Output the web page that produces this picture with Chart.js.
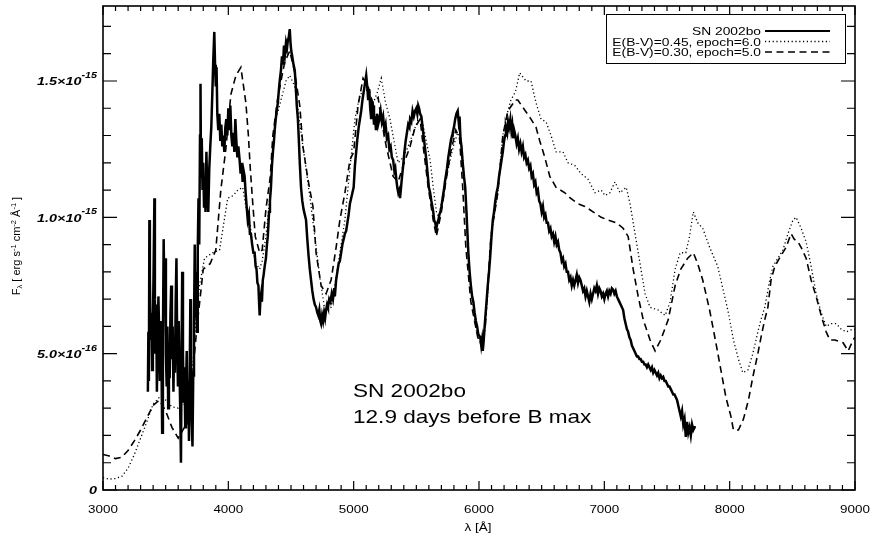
<!DOCTYPE html>
<html>
<head>
<meta charset="utf-8">
<script src="https://cdn.jsdelivr.net/npm/chart.js@4.4.1/dist/chart.umd.min.js"></script>
<style>
  html, body { margin: 0; padding: 0; background: #fff; }
  canvas { display: block; background: #fff; }
</style>
</head>
<body>
<canvas id="grafica" width="875" height="536"></canvas>
<script>
// ===============================
// DATOS (flujo en unidades de 1e-16 erg s^-1 cm^-2 Å^-1)
// ===============================

// SN 2002bo observado
const obsWave = [
  3358, 3362, 3366, 3370, 3374, 3380, 3386, 3392, 3398, 3404,
  3410, 3414, 3418, 3424, 3430, 3436, 3442, 3448, 3454, 3460,
  3466, 3472, 3478, 3484, 3490, 3496, 3502, 3508, 3514, 3520,
  3526, 3532, 3538, 3544, 3550, 3556, 3562, 3568, 3574, 3580,
  3586, 3592, 3598, 3604, 3610, 3616, 3622, 3628, 3632, 3638,
  3644, 3650, 3656, 3662, 3668, 3674, 3680, 3686, 3692, 3697,
  3702, 3708, 3714, 3720, 3726, 3732, 3738, 3744, 3750, 3756,
  3762, 3768, 3774, 3778, 3782, 3788, 3794, 3800, 3806, 3812,
  3818, 3825, 3832, 3840, 3848, 3856, 3864, 3872, 3880, 3888,
  3894, 3900, 3906, 3912, 3920, 3928, 3936, 3944, 3952, 3960,
  3968, 3976, 3984, 3992, 4000, 4008, 4016, 4024, 4032, 4040,
  4048, 4056, 4064, 4072, 4080, 4090, 4098, 4106, 4114, 4122,
  4130, 4138, 4146, 4155, 4164, 4172, 4180, 4190, 4200, 4210,
  4218, 4225, 4232, 4240, 4246, 4250, 4256, 4262, 4268, 4275,
  4282, 4290, 4300, 4308, 4315, 4325, 4332, 4340, 4348, 4356,
  4364, 4370, 4378, 4386, 4395, 4402, 4410, 4420, 4428, 4436,
  4444, 4452, 4460, 4468, 4475, 4482, 4490, 4496, 4502, 4510,
  4520, 4530, 4538, 4546, 4555, 4562, 4570, 4580, 4590, 4600,
  4610, 4620, 4630, 4640, 4650, 4660, 4670, 4680, 4690, 4700,
  4710, 4718, 4726, 4734, 4740, 4748, 4756, 4764, 4772, 4780,
  4788, 4795, 4805, 4815, 4825, 4835, 4845, 4850, 4860, 4870,
  4880, 4890, 4900, 4910, 4920, 4930, 4940, 4950, 4960, 4970,
  4980, 4990, 5000, 5010, 5020, 5030, 5040, 5050, 5060, 5070,
  5080, 5090, 5100, 5108, 5116, 5124, 5132, 5140, 5148, 5155,
  5162, 5170, 5178, 5186, 5195, 5205, 5215, 5225, 5235, 5245,
  5255, 5265, 5275, 5285, 5295, 5305, 5315, 5325, 5332, 5340,
  5348, 5356, 5364, 5370, 5378, 5386, 5395, 5405, 5415, 5425,
  5435, 5445, 5450, 5460, 5470, 5480, 5490, 5500, 5508, 5515,
  5522, 5530, 5540, 5550, 5560, 5570, 5580, 5590, 5600, 5610,
  5620, 5628, 5635, 5642, 5650, 5660, 5668, 5676, 5684, 5692,
  5700, 5710, 5720, 5728, 5735, 5745, 5755, 5765, 5775, 5785,
  5790, 5800, 5810, 5820, 5830, 5838, 5845, 5852, 5860, 5870,
  5880, 5890, 5900, 5908, 5915, 5925, 5935, 5945, 5955, 5965,
  5975, 5985, 5995, 6010, 6018, 6024, 6030, 6036, 6042, 6050,
  6060, 6070, 6080, 6090, 6100, 6110, 6120, 6130, 6140, 6150,
  6160, 6170, 6180, 6190, 6200, 6208, 6215, 6225, 6232, 6240,
  6250, 6258, 6265, 6272, 6280, 6290, 6300, 6310, 6320, 6330,
  6340, 6350, 6360, 6370, 6380, 6390, 6400, 6410, 6420, 6430,
  6440, 6450, 6460, 6470, 6480, 6490, 6500, 6510, 6520, 6530,
  6540, 6550, 6560, 6570, 6580, 6590, 6600, 6610, 6620, 6630,
  6640, 6650, 6660, 6670, 6680, 6690, 6700, 6710, 6720, 6730,
  6740, 6750, 6760, 6770, 6780, 6790, 6800, 6810, 6820, 6830,
  6840, 6850, 6860, 6870, 6880, 6890, 6900, 6910, 6920, 6930,
  6940, 6950, 6960, 6970, 6980, 6990, 7000, 7010, 7020, 7030,
  7040, 7050, 7060, 7070, 7080, 7090, 7100, 7110, 7120, 7130,
  7140, 7150, 7160, 7170, 7180, 7190, 7200, 7210, 7220, 7230,
  7240, 7250, 7260, 7270, 7280, 7290, 7300, 7310, 7320, 7330,
  7340, 7350, 7360, 7370, 7380, 7390, 7400, 7410, 7420, 7430,
  7440, 7450, 7460, 7470, 7480, 7490, 7500, 7510, 7520, 7530,
  7540, 7550, 7560, 7570, 7580, 7590, 7600, 7610, 7620, 7630,
  7640, 7650, 7660, 7670, 7680, 7690, 7700, 7710, 7720, 7730
];
const obsFlux = [
  3.6, 5.8, 4.0, 9.9, 7.8, 5.5, 6.5, 4.4, 6.0, 8.2,
  10.7, 7.0, 5.0, 6.8, 3.6, 5.2, 7.1, 5.8, 4.0, 6.2,
  5.0, 2.1, 5.5, 9.2, 7.0, 8.5, 5.0, 3.8, 6.0, 3.0,
  5.2, 4.1, 6.4, 7.5, 4.8, 6.0, 3.6, 5.5, 4.3, 6.9,
  8.5, 5.4, 3.8, 6.2, 4.5, 3.0, 1.0, 5.5, 8.0, 5.0,
  3.2, 4.5, 2.3, 3.6, 5.1, 2.4, 4.0, 1.8, 4.4, 7.0,
  4.0, 2.5, 1.6, 4.2, 6.0, 9.0, 6.3, 8.0, 5.8, 8.8,
  10.7, 9.0, 13.0, 14.9, 11.5, 12.9, 11.0, 12.0, 10.4, 11.2,
  10.2, 12.4, 11.0, 10.2, 11.8, 12.6, 13.3, 14.5, 15.8, 16.8,
  15.6, 14.8, 15.5, 13.8, 13.2, 13.8, 12.8, 13.4, 12.6, 13.0,
  12.4, 13.3, 13.6, 13.0, 14.0, 13.2, 14.1, 13.0, 12.6, 13.1,
  12.4, 13.6, 12.8, 12.2, 12.6, 12.1, 11.6, 12.0, 11.3, 11.7,
  11.5, 10.9, 10.4, 9.9, 10.1, 9.4, 9.4, 9.0, 8.7, 8.7,
  8.2, 8.1, 7.6, 7.5, 6.8, 6.4, 7.0, 7.2, 6.9, 7.7,
  7.9, 8.2, 8.5, 9.0, 9.3, 10.2, 10.6, 11.1, 11.9, 12.4,
  12.8, 13.2, 13.6, 13.9, 14.2, 14.6, 15.0, 15.4, 15.9, 15.6,
  16.3, 16.0, 16.4, 16.2, 16.5, 16.6, 16.9, 16.4, 16.1, 15.9,
  15.6, 15.4, 14.8, 14.1, 13.6, 12.9, 12.0, 11.1, 10.6, 10.3,
  10.1, 9.9, 9.2, 8.6, 8.1, 7.7, 7.3, 7.0, 6.8, 6.7,
  6.5, 6.4, 6.6, 6.2, 6.1, 6.4, 6.2, 6.5, 6.3, 6.6,
  6.8, 6.7, 7.0, 6.9, 7.2, 7.0, 7.4, 7.1, 7.7, 8.0,
  8.3, 8.4, 8.7, 9.0, 9.2, 9.4, 9.5, 9.8, 10.1, 10.5,
  10.7, 10.9, 11.1, 11.9, 12.4, 12.9, 13.3, 13.6, 13.9, 14.3,
  14.6, 14.9, 15.2, 14.8, 14.3, 14.7, 14.0, 13.6, 14.2, 14.1,
  13.4, 13.7, 13.2, 13.8, 13.4, 13.6, 13.9, 13.5, 13.7, 13.2,
  13.4, 12.9, 13.0, 12.5, 12.6, 12.2, 12.1, 11.7, 11.8, 11.4,
  11.1, 10.9, 11.0, 10.7, 11.1, 11.5, 11.9, 12.4, 12.8, 13.1,
  13.4, 13.3, 13.6, 13.5, 13.9, 13.7, 13.9, 14.0, 13.8, 14.1,
  14.0, 13.8, 13.7, 13.3, 12.9, 12.5, 12.1, 11.6, 11.1, 10.9,
  10.6, 10.4, 10.2, 9.9, 9.8, 9.6, 9.8, 9.9, 10.1, 10.2,
  10.4, 10.7, 11.0, 11.3, 11.5, 11.8, 12.2, 12.5, 12.8, 13.0,
  13.1, 13.3, 13.6, 13.8, 13.9, 13.5, 13.7, 12.9, 12.6, 12.0,
  11.5, 11.1, 10.2, 9.4, 8.7, 8.0, 7.5, 7.1, 6.9, 6.5,
  6.2, 6.0, 5.7, 5.6, 5.3, 5.5, 5.1, 5.4, 5.8, 6.3,
  6.9, 7.5, 8.0, 8.6, 9.3, 9.9, 10.2, 10.6, 10.9, 11.1,
  11.5, 11.8, 12.1, 12.4, 12.8, 13.0, 13.3, 13.1, 13.5, 13.3,
  13.6, 13.2, 13.4, 12.9, 13.2, 13.0, 12.7, 12.9, 12.5, 12.7,
  12.4, 12.6, 12.2, 12.3, 12.0, 12.1, 11.8, 11.9, 11.5, 11.6,
  11.2, 11.3, 10.9, 11.0, 10.6, 10.5, 10.2, 10.4, 10.0, 10.1,
  9.8, 9.8, 9.5, 9.6, 9.3, 9.4, 9.1, 9.3, 9.0, 9.1,
  8.8, 8.7, 8.4, 8.5, 8.2, 8.3, 8.0, 8.0, 7.7, 7.8,
  7.5, 7.7, 7.5, 7.7, 7.9, 7.6, 7.8, 7.7, 7.5, 7.3,
  7.4, 7.1, 7.3, 7.1, 6.9, 7.2, 7.0, 7.2, 7.4, 7.3,
  7.5, 7.2, 7.4, 7.3, 7.1, 7.2, 7.0, 7.2, 7.3, 7.1,
  7.3, 7.2, 7.4, 7.35, 7.2, 7.3, 7.1, 7.0, 6.9, 6.8,
  6.7, 6.6, 6.3, 6.1, 5.9, 5.8, 5.6, 5.5, 5.3, 5.2,
  5.1, 5.0, 4.9, 4.9, 4.8, 4.8, 4.7, 4.7, 4.6, 4.6,
  4.5, 4.6, 4.5, 4.4, 4.5, 4.3, 4.4, 4.3, 4.2, 4.3,
  4.1, 4.2, 4.1, 4.15, 4.0, 4.0, 3.9, 3.8, 3.8, 3.7,
  3.6, 3.5, 3.5, 3.4, 3.3, 3.1, 2.9, 2.7, 2.9, 2.4,
  2.6, 1.95, 2.5, 2.1, 2.3, 2.0, 2.4, 2.2, 2.3, 2.3
];

// Modelo E(B-V)=0.45, epoch=6.0 (punteado)
const dotWave = [
  3000, 3050, 3100, 3150, 3200, 3250, 3300, 3350, 3400, 3450,
  3500, 3550, 3600, 3650, 3700, 3740, 3770, 3810, 3875, 3930,
  3995, 4040, 4075, 4115, 4140, 4175, 4200, 4220, 4250, 4270,
  4300, 4335, 4355, 4380, 4420, 4460, 4490, 4530, 4555, 4580,
  4620, 4660, 4690, 4730, 4770, 4820, 4850, 4890, 4930, 4970,
  5010, 5050, 5100, 5150, 5190, 5220, 5255, 5290, 5330, 5355,
  5395, 5435, 5475, 5515, 5545, 5570, 5610, 5635, 5660, 5680,
  5715, 5755, 5795, 5830, 5855, 5890, 5915, 5935, 5975, 6010,
  6040, 6070, 6095, 6150, 6190, 6230, 6255, 6290, 6325, 6375,
  6415, 6455, 6495, 6535, 6575, 6615, 6670, 6710, 6765, 6815,
  6870, 6925, 6975, 7005, 7045, 7085, 7125, 7175, 7205, 7245,
  7285, 7325, 7365, 7430, 7485, 7525, 7565, 7605, 7650, 7680,
  7710, 7745, 7785, 7840, 7905, 7960, 7990, 8030, 8070, 8105,
  8145, 8185, 8225, 8250, 8280, 8320, 8345, 8385, 8425, 8465,
  8505, 8530, 8570, 8610, 8650, 8690, 8730, 8770, 8810, 8850,
  8890, 8930, 8985, 9000
];
const dotFlux = [
  0.45, 0.40, 0.42, 0.50, 0.80, 1.30, 1.90, 2.50, 3.15, 3.40,
  3.30, 3.05, 3.00, 3.15, 3.40, 6.2, 7.5, 8.5, 8.7, 8.8,
  10.7, 10.8, 11.0, 11.1, 10.4, 9.7, 8.7, 8.3, 8.1, 8.4,
  9.3, 10.9, 12.4, 13.6, 14.3, 15.0, 15.2, 14.8, 14.0, 13.1,
  11.8, 10.4, 9.3, 7.8, 6.6, 6.7, 7.5, 8.7, 9.9, 11.8,
  13.6, 14.5, 14.7, 14.1, 14.6, 15.1, 14.2, 13.6, 12.6, 12.0,
  12.2, 12.6, 13.1, 13.6, 13.6, 13.0, 12.1, 11.1, 10.2, 10.0,
  10.9, 11.8, 12.6, 13.1, 12.9, 11.1, 8.7, 7.5, 5.9, 5.4,
  5.5, 7.2, 9.3, 10.9, 13.0, 13.9, 14.3, 14.6, 15.3, 15.0,
  15.0, 14.2, 13.6, 13.5, 13.0, 12.4, 12.4, 12.0, 11.9, 11.6,
  11.4, 10.9, 11.0, 10.8, 10.9, 11.3, 10.9, 11.1, 10.5, 9.4,
  8.3, 7.2, 6.7, 6.6, 6.4, 6.9, 8.1, 8.7, 8.7, 9.3,
  10.2, 9.8, 9.6, 8.9, 8.2, 7.1, 6.5, 5.5, 4.8, 4.3,
  4.4, 5.0, 5.8, 6.25, 6.7, 7.7, 8.2, 8.5, 8.8, 9.4,
  9.9, 10.0, 9.6, 9.1, 8.2, 7.2, 6.5, 6.0, 6.1, 6.1,
  5.9, 5.8, 5.9, 5.9
];

// Modelo E(B-V)=0.30, epoch=5.0 (discontinuo)
const dashWave = [
  3000, 3050, 3100, 3150, 3200, 3250, 3300, 3350, 3400, 3450,
  3500, 3550, 3600, 3650, 3700, 3750, 3800, 3855, 3900, 3940,
  3980, 4020, 4060, 4100, 4140, 4160, 4175, 4195, 4215, 4250,
  4270, 4300, 4335, 4355, 4395, 4450, 4490, 4530, 4570, 4595,
  4635, 4675, 4700, 4740, 4780, 4820, 4860, 4890, 4930, 4970,
  5000, 5035, 5075, 5115, 5150, 5195, 5220, 5260, 5315, 5355,
  5395, 5450, 5490, 5530, 5555, 5595, 5635, 5660, 5700, 5735,
  5775, 5815, 5845, 5870, 5895, 5935, 5990, 6020, 6050, 6095,
  6150, 6190, 6230, 6290, 6310, 6370, 6415, 6455, 6485, 6525,
  6565, 6615, 6685, 6730, 6790, 6845, 6910, 6975, 7030, 7095,
  7150, 7190, 7230, 7270, 7310, 7365, 7405, 7450, 7510, 7565,
  7610, 7665, 7710, 7745, 7785, 7840, 7890, 7930, 7970, 8010,
  8030, 8070, 8110, 8150, 8185, 8225, 8250, 8280, 8305, 8330,
  8360, 8410, 8450, 8490, 8515, 8545, 8570, 8610, 8650, 8690,
  8730, 8770, 8800, 8840, 8905, 8945, 8985, 9000
];
const dashFlux = [
  1.30, 1.25, 1.15, 1.20, 1.45, 1.80, 2.20, 2.65, 3.10, 3.30,
  2.90, 2.30, 1.90, 2.30, 3.50, 6.0, 8.1, 8.3, 8.8, 11.0,
  12.5, 14.5, 15.2, 15.5, 14.2, 13.0, 11.8, 10.5, 9.3, 8.7,
  8.8, 10.3, 11.5, 13.0, 14.4, 15.7, 16.1, 15.3, 14.1, 12.6,
  11.4, 10.4, 8.7, 7.5, 7.2, 7.7, 8.9, 9.9, 10.9, 12.1,
  12.4, 14.1, 15.1, 14.8, 14.2, 14.4, 13.6, 12.6, 11.5, 11.3,
  11.9, 12.6, 13.3, 13.6, 12.6, 11.1, 9.9, 9.3, 10.2, 11.3,
  12.4, 13.2, 12.9, 11.1, 8.9, 6.9, 5.6, 5.3, 6.0, 9.3,
  10.9, 13.0, 13.9, 14.3, 14.3, 13.9, 13.6, 13.3, 12.8, 12.2,
  11.5, 11.1, 10.9, 10.7, 10.5, 10.4, 10.2, 10.0, 9.9, 9.8,
  9.6, 9.3, 8.1, 7.1, 6.25, 5.5, 5.1, 5.5, 6.25, 7.5,
  8.1, 8.5, 8.7, 8.3, 7.7, 6.6, 5.4, 4.4, 3.4, 2.7,
  2.2, 2.2, 2.6, 3.3, 4.15, 5.0, 5.6, 6.25, 6.7, 7.7,
  8.2, 8.6, 8.9, 9.4, 9.2, 9.1, 8.9, 8.5, 7.7, 7.1,
  6.4, 5.8, 5.5, 5.5, 5.4, 5.1, 5.5, 5.6
];

// Ejes y etiquetas
const xTickValues = [3000, 4000, 5000, 6000, 7000, 8000, 9000];
const yTickValues = [0, 5, 10, 15];
const yTickMantissa = ["0", "5.0", "1.0", "1.5"];
const yTickExponent = ["", "-16", "-15", "-15"];
const legendLabels = ["SN 2002bo", "E(B-V)=0.45, epoch=6.0", "E(B-V)=0.30, epoch=5.0"];
const noteLines = ["SN 2002bo", "12.9 days before B max"];

// ===============================
// DIBUJO
// ===============================
const FONT = "'Liberation Sans', Arial, Helvetica, sans-serif";
const SX = 1.22; // la figura original está estirada en horizontal

function toPoints(xs, ys) {
    return xs.map((x, i) => ({ x: x, y: ys[i] }));
}

// texto estirado horizontalmente
function stretchedText(ctx, text, x, y, font, align) {
    ctx.save();
    ctx.font = font;
    const w = ctx.measureText(text).width * SX;
    let x0 = x;
    if (align === "right") x0 = x - w;
    if (align === "center") x0 = x - w / 2;
    ctx.translate(x0, y);
    ctx.scale(SX, 1);
    ctx.textAlign = "left";
    ctx.textBaseline = "alphabetic";
    ctx.fillText(text, 0, 0);
    ctx.restore();
    return w;
}

function textWidth(ctx, text, font) {
    ctx.save();
    ctx.font = font;
    const w = ctx.measureText(text).width * SX;
    ctx.restore();
    return w;
}

const decor = {
    id: "decor",
    afterDraw(chart) {
        const ctx = chart.ctx;
        const a = chart.chartArea;
        const xs = chart.scales.x;
        const ys = chart.scales.y;
        ctx.save();
        ctx.fillStyle = "#000";
        ctx.strokeStyle = "#000";

        // marco
        ctx.lineWidth = 1.6;
        ctx.strokeRect(a.left, a.top, a.right - a.left, a.bottom - a.top);

        // marcas hacia dentro
        ctx.lineWidth = 1.2;
        ctx.beginPath();
        for (let w = 3000; w <= 9000; w += 100) {
            const px = xs.getPixelForValue(w);
            const len = (w % 1000 === 0) ? 9 : 5;
            ctx.moveTo(px, a.bottom); ctx.lineTo(px, a.bottom - len);
            ctx.moveTo(px, a.top); ctx.lineTo(px, a.top + len);
        }
        for (let v = 0; v <= 17; v += 1) {
            const py = ys.getPixelForValue(v);
            const len = (v % 5 === 0) ? 14 : 8;
            ctx.moveTo(a.left, py); ctx.lineTo(a.left + len, py);
            ctx.moveTo(a.right, py); ctx.lineTo(a.right - len, py);
        }
        ctx.stroke();

        // etiquetas eje x
        xTickValues.forEach(v => {
            stretchedText(ctx, String(v), xs.getPixelForValue(v), 513, "11px " + FONT, "center");
        });

        // etiquetas eje y
        const fMain = "italic bold 11.8px " + FONT;
        const fExp = "italic bold 8.8px " + FONT;
        yTickValues.forEach((v, i) => {
            const py = ys.getPixelForValue(v);
            const right = 97;
            if (yTickExponent[i] === "") {
                stretchedText(ctx, yTickMantissa[i], right, py + 4, fMain, "right");
                return;
            }
            const wE = textWidth(ctx, yTickExponent[i], fExp);
            const main = yTickMantissa[i] + "\u00d710";
            stretchedText(ctx, main, right - wE, py + 4.5, fMain, "right");
            stretchedText(ctx, yTickExponent[i], right, py - 3, fExp, "right");
        });

        // título eje y (rotado)
        ctx.save();
        ctx.translate(20, 246);
        ctx.rotate(-Math.PI / 2);
        const parts = [
            ["F", 0, 11], ["\u03bb", 2, 7.5], [" [ erg s", 0, 11], ["-1", -4, 7.5],
            [" cm", 0, 11], ["-2", -4, 7.5], [" \u00c5", 0, 11], ["-1", -4, 7.5], [" ]", 0, 11]
        ];
        let total = 0;
        parts.forEach(p => { ctx.font = p[2] + "px " + FONT; total += ctx.measureText(p[0]).width; });
        let cx = -total / 2;
        ctx.textBaseline = "alphabetic";
        parts.forEach(p => {
            ctx.font = p[2] + "px " + FONT;
            ctx.fillText(p[0], cx, p[1]);
            cx += ctx.measureText(p[0]).width;
        });
        ctx.restore();

        // título eje x
        stretchedText(ctx, "\u03bb [\u00c5]", 478, 531, "11px " + FONT, "center");

        // anotación
        stretchedText(ctx, noteLines[0], 353, 397, "18.5px " + FONT, "left");
        stretchedText(ctx, noteLines[1], 353, 423, "18.5px " + FONT, "left");

        // leyenda
        ctx.lineWidth = 1;
        ctx.setLineDash([]);
        ctx.strokeRect(606.5, 14.5, 239, 49);
        const rowsY = [35, 45.5, 56];
        const styles = [
            { dash: [], width: 2 },
            { dash: [1.2, 2.6], width: 1.3 },
            { dash: [7, 4.5], width: 1.6 }
        ];
        legendLabels.forEach((lab, i) => {
            stretchedText(ctx, lab, 761, rowsY[i], "11.3px " + FONT, "right");
            ctx.beginPath();
            ctx.setLineDash(styles[i].dash);
            ctx.lineWidth = styles[i].width;
            ctx.moveTo(765, rowsY[i] - 4);
            ctx.lineTo(830, rowsY[i] - 4);
            ctx.stroke();
        });
        ctx.setLineDash([]);
        ctx.restore();
    }
};

Chart.defaults.font.family = FONT;
Chart.defaults.color = "#000";

const ctx = document.getElementById("grafica").getContext("2d");

const grafica = new Chart(ctx, {
    type: "line",
    data: {
        datasets: [
            {
                label: legendLabels[0],
                data: toPoints(obsWave, obsFlux),
                borderColor: "#000",
                borderWidth: 2.5,
                pointRadius: 0,
                tension: 0,
                fill: false
            },
            {
                label: legendLabels[1],
                data: toPoints(dotWave, dotFlux),
                borderColor: "#000",
                borderWidth: 1.3,
                borderDash: [1.2, 2.6],
                pointRadius: 0,
                tension: 0,
                fill: false
            },
            {
                label: legendLabels[2],
                data: toPoints(dashWave, dashFlux),
                borderColor: "#000",
                borderWidth: 1.6,
                borderDash: [7, 4.5],
                pointRadius: 0,
                tension: 0,
                fill: false
            }
        ]
    },
    options: {
        responsive: false,
        animation: false,
        layout: { padding: { top: 6, right: 20, left: 0, bottom: 0 } },
        plugins: {
            legend: { display: false },
            tooltip: { enabled: false }
        },
        scales: {
            x: {
                type: "linear",
                min: 3000,
                max: 9000,
                ticks: { display: false, stepSize: 1000 },
                grid: { display: false, drawTicks: false },
                border: { display: false },
                afterFit: s => { s.height = 46; s.paddingLeft = 0; s.paddingRight = 0; }
            },
            y: {
                min: 0,
                max: 17.75,
                ticks: { display: false },
                grid: { display: false, drawTicks: false },
                border: { display: false },
                afterFit: s => { s.width = 103; }
            }
        }
    },
    plugins: [decor]
});
</script>
</body>
</html>
